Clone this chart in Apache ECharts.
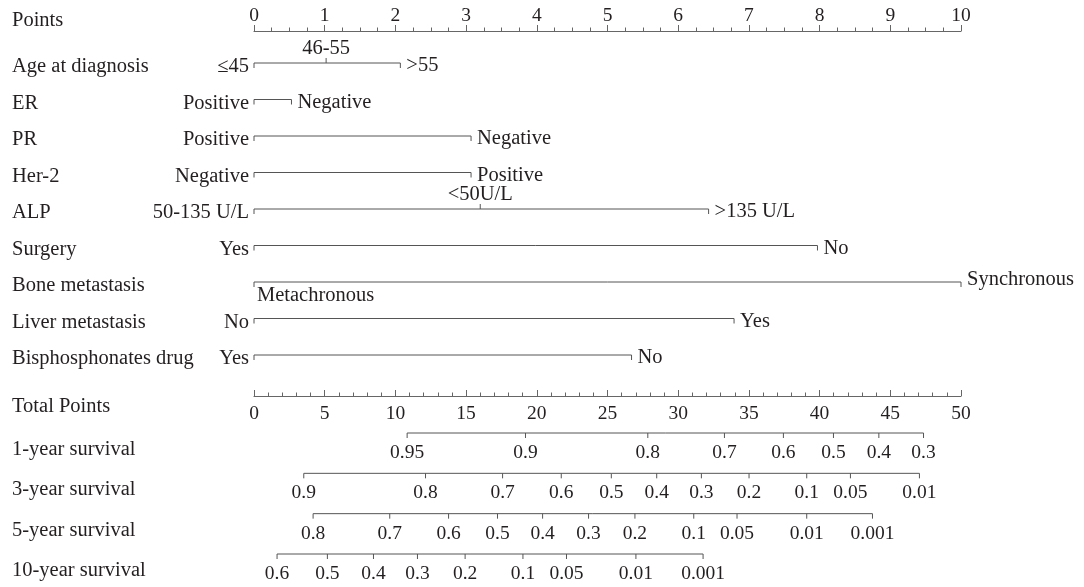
<!DOCTYPE html>
<html>
<head>
<meta charset="utf-8">
<script src="https://cdn.jsdelivr.net/npm/echarts@6/dist/echarts.min.js"></script>
<style>
  html, body { margin: 0; background: #fff; }
  #chart { width: 1084px; height: 587px; }
</style>
</head>
<body>
<div id="chart"></div>
<script>
// 变量名 / levels / points
const varNames = ['Age at diagnosis', 'ER', 'PR', 'Her-2', 'ALP', 'Surgery',
  'Bone metastasis', 'Liver metastasis', 'Bisphosphonates drug'];
const varLevels = [
  ['≤45', '46-55', '>55'],
  ['Positive', 'Negative'],
  ['Positive', 'Negative'],
  ['Negative', 'Positive'],
  ['50-135 U/L', '<50U/L', '>135 U/L'],
  ['Yes', 'No'],
  ['Metachronous', 'Synchronous'],
  ['No', 'Yes'],
  ['Yes', 'No']
];
const varPoints = [
  [0, 1.02, 2.07],
  [0, 0.53],
  [0, 3.07],
  [0, 3.07],
  [0, 3.2, 6.43],
  [0, 7.97],
  [0, 10],
  [0, 6.79],
  [0, 5.34]
];

// survival scales, positions in total points
const survNames = ['1-year survival', '3-year survival', '5-year survival', '10-year survival'];
const surv1Labels = ['0.95', '0.9', '0.8', '0.7', '0.6', '0.5', '0.4', '0.3'];
const surv1Total = [10.83, 19.2, 27.85, 33.27, 37.44, 40.98, 44.19, 47.35];
const surv3Labels = ['0.9', '0.8', '0.7', '0.6', '0.5', '0.4', '0.3', '0.2', '0.1', '0.05', '0.01'];
const surv3Total = [3.52, 12.13, 17.58, 21.73, 25.27, 28.48, 31.64, 35.01, 39.09, 42.18, 47.06];
const surv5Labels = ['0.8', '0.7', '0.6', '0.5', '0.4', '0.3', '0.2', '0.1', '0.05', '0.01', '0.001'];
const surv5Total = [4.18, 9.6, 13.76, 17.22, 20.41, 23.66, 26.94, 31.1, 34.16, 39.09, 43.74];
const surv10Labels = ['0.6', '0.5', '0.4', '0.3', '0.2', '0.1', '0.05', '0.01', '0.001'];
const surv10Total = [1.63, 5.19, 8.45, 11.56, 14.93, 19.02, 22.1, 27.01, 31.76];

const survLabels = [surv1Labels, surv3Labels, surv5Labels, surv10Labels];
const survTotal = [surv1Total, surv3Total, surv5Total, surv10Total];

const FONT = '"Liberation Serif", "Times New Roman", serif';
const FS = 20.5;   // words
const NS = 19.5;   // numbers
const TXT = '#231f20';
const LN = '#555';
const NAME_X = 12;  // 左侧变量名起点

function txt(text, x, y, align, vAlign, size) {
  return {
    type: 'text',
    style: { text: text, x: x, y: y, align: align, verticalAlign: vAlign,
      fill: TXT, fontSize: size || FS, fontFamily: FONT }
  };
}
function seg(x1, y1, x2, y2) {
  return {
    type: 'line',
    shape: { x1: x1, y1: y1, x2: x2, y2: y2 },
    style: { stroke: LN, lineWidth: 1 }
  };
}

// 画每个变量的刻度线
function renderVar(params, api) {
  const r = params.dataIndex;
  const pts = varPoints[r];
  const lv = varLevels[r];
  const a = api.coord([Math.min(...pts), r]);
  const b = api.coord([Math.max(...pts), r]);
  const kids = [seg(a[0], a[1], b[0], b[1])];
  kids.push(txt(varNames[r], NAME_X, a[1] + 4, 'left', 'middle'));
  const last = pts.length - 1;
  const bone = varNames[r] === 'Bone metastasis';
  pts.forEach(function (v, i) {
    const p = api.coord([v, r]);
    if (i === 0 || i === last) {
      kids.push(seg(p[0], p[1], p[0], p[1] + 5));
    } else {
      kids.push(seg(p[0], p[1], p[0], p[1] - 5));
    }
    if (i === 0) {
      if (bone) {
        kids.push(txt(lv[i], p[0] + 3, p[1] + 3, 'left', 'top'));
      } else {
        kids.push(txt(lv[i], p[0] - 5, p[1] + 4, 'right', 'middle'));
      }
    } else if (i === last) {
      kids.push(txt(lv[i], p[0] + 6, p[1] + (bone ? -2 : 3), 'left', 'middle'));
    } else {
      kids.push(txt(lv[i], p[0], p[1] - 4, 'center', 'bottom'));
    }
  });
  return { type: 'group', children: kids };
}

function renderSurv(params, api) {
  const r = params.dataIndex;
  const t = survTotal[r];
  const a = api.coord([t[0], r + 1]);
  const b = api.coord([t[t.length - 1], r + 1]);
  const kids = [seg(a[0], a[1], b[0], b[1])];
  t.forEach(function (v, i) {
    const p = api.coord([v, r + 1]);
    kids.push(seg(p[0], p[1], p[0], p[1] + 5));
    kids.push(txt(survLabels[r][i], p[0], p[1] + 10, 'center', 'top', NS));
  });
  return { type: 'group', children: kids };
}

const nameStyle = { color: TXT, fontSize: FS, fontFamily: FONT };
const numStyle = { color: TXT, fontSize: NS, fontFamily: FONT };

const option = {
  animation: false,
  grid: [
    { left: 254, right: 123, top: 63, height: 292, outerBoundsMode: 'none', containLabel: false },
    { left: 254, right: 123, top: 433, height: 121, outerBoundsMode: 'none', containLabel: false }
  ],
  xAxis: [
    {
      gridIndex: 0, type: 'value', position: 'top', offset: 32,
      min: 0, max: 10, interval: 1,
      name: 'Points', nameLocation: 'start', nameGap: 254 - NAME_X,
      nameTextStyle: Object.assign({ align: 'left', verticalAlign: 'bottom' }, nameStyle),
      axisLine: { onZero: false, lineStyle: { color: '#666', width: 1.2 } },
      axisTick: { length: 6, lineStyle: { color: '#666' } },
      minorTick: { show: true, splitNumber: 4, length: 3.5, lineStyle: { color: '#666' } },
      axisLabel: Object.assign({ margin: 5 }, numStyle),
      splitLine: { show: false }
    },
    {
      gridIndex: 1, type: 'value', position: 'top', offset: 37,
      min: 0, max: 50, interval: 5,
      name: 'Total Points', nameLocation: 'start', nameGap: 254 - NAME_X,
      nameTextStyle: Object.assign({ align: 'left', verticalAlign: 'top' }, nameStyle),
      axisLine: { onZero: false, lineStyle: { color: '#666', width: 1.2 } },
      axisTick: { length: 6, lineStyle: { color: '#666' } },
      minorTick: { show: true, splitNumber: 5, length: 3.5, lineStyle: { color: '#666' } },
      axisLabel: Object.assign({ inside: true, margin: 8 }, numStyle),
      splitLine: { show: false }
    }
  ],
  yAxis: [
    {
      gridIndex: 0, type: 'value', min: 0, max: 8, interval: 1, inverse: true,
      axisLine: { show: false }, axisTick: { show: false }, splitLine: { show: false },
      axisLabel: { show: false }
    },
    {
      gridIndex: 1, type: 'value', min: 1, max: 4, interval: 1, inverse: true,
      axisLine: { show: false }, axisTick: { show: false }, splitLine: { show: false },
      axisLabel: Object.assign({
        formatter: function (v) { return survNames[v - 1] || ''; },
        align: 'left', verticalAlign: 'top', margin: 254 - NAME_X, padding: [6, 0, 0, 0]
      }, nameStyle)
    }
  ],
  series: [
    {
      type: 'custom', xAxisIndex: 0, yAxisIndex: 0, silent: true,
      renderItem: renderVar,
      data: varNames.map(function (n, i) { return [0, i]; })
    },
    {
      type: 'custom', xAxisIndex: 1, yAxisIndex: 1, silent: true,
      renderItem: renderSurv,
      data: survNames.map(function (n, i) { return [0, i + 1]; })
    }
  ]
};

const chart = echarts.init(document.getElementById('chart'));
chart.setOption(option);
</script>
</body>
</html>
